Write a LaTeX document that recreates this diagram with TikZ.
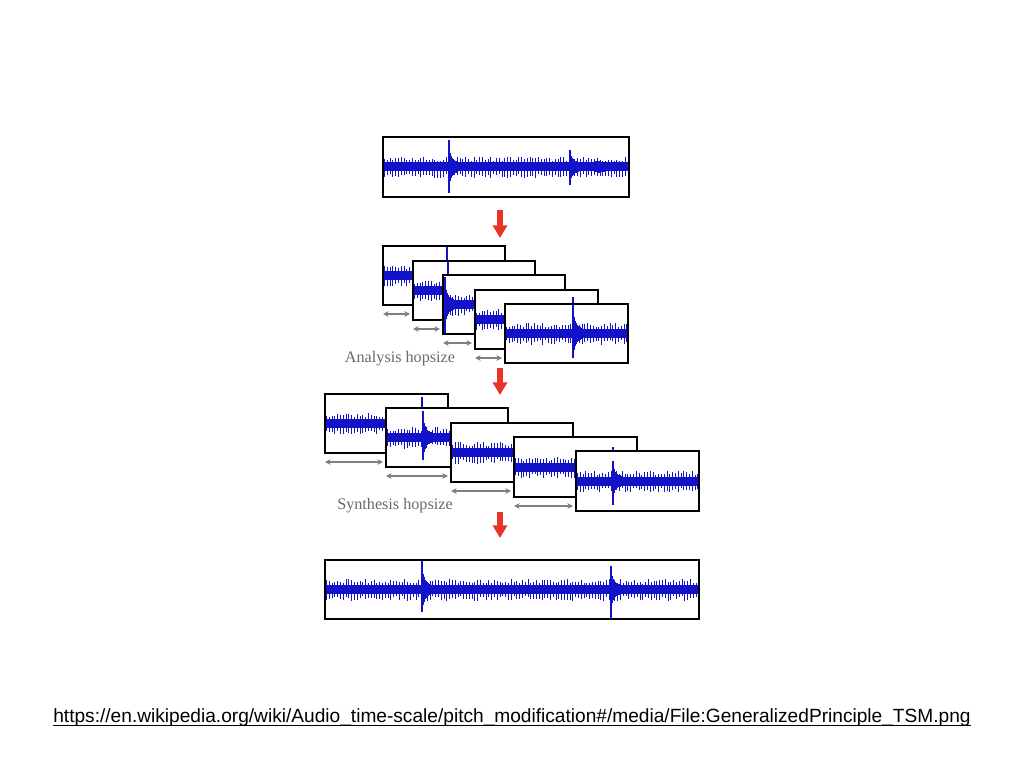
\documentclass[tikz,border=0pt]{standalone}
\usepackage{fontspec}
\setmainfont{Liberation Serif}
\newfontfamily\urlfont{Liberation Sans}
\usetikzlibrary{positioning,calc,fit,arrows.meta}

\definecolor{waveblue}{RGB}{18,18,200}
\definecolor{arrowred}{RGB}{232,52,38}
\definecolor{hopgray}{RGB}{128,128,128}
\definecolor{labelgray}{RGB}{105,105,105}

\tikzset{
  frame/.style={fill=white, inner sep=0pt, outer sep=0pt},
  frameline/.style={draw=black, line width=1.4pt},
  wave/.style={draw=waveblue, line width=0.6pt},
  hop/.style={hopgray, line width=0.8pt, {Stealth[length=4pt,width=4pt]}-{Stealth[length=4pt,width=4pt]}},
  downarrow/.style={arrowred, line width=4.3pt, -{Triangle[length=9pt,width=10pt]}},
  hoplabel/.style={text=labelgray, font=\fontsize{11.5}{13}\selectfont},
}

% noise band of a frame, centre line \wyc
\newcommand{\wavelines}[3]{%
  \pgfmathsetseed{#3}
  \fill[waveblue] (#1,\wyc-4.5) rectangle (#2,\wyc+4.5);
  \pgfmathtruncatemacro\wn{(#2-#1)/1.4}
  \foreach \k in {0,...,\wn}{
    \pgfmathsetmacro\wx{#1+1.4*\k}
    \pgfmathsetmacro\wu{4.5+mod(\k,2)*(1.5+4.5*rnd)}
    \pgfmathsetmacro\wd{4.5+mod(\k,2)*(2+5*rnd)}
    \draw[wave] (\wx,\wyc-\wu) -- (\wx,\wyc+\wd);
  }
}
% transient: x, up, down
\newcommand{\spike}[3]{%
  \draw[wave, line width=1.1pt] (#1,\wyc-#2) -- (#1,\wyc+#3);
  \foreach \d in {1,...,8}{
    \pgfmathsetmacro\ta{5+0.5*#2*exp(-\d/2.5)}
    \draw[wave, line width=0.8pt] (#1+\d*1.1,\wyc-\ta) -- (#1+\d*1.1,\wyc+\ta);
  }
}
% name, x0, y0, x1, y1, seed, spikes
\newcommand{\wframe}[7]{%
  \node[frame, fit={(#2,#3) (#4,#5)}] (#1) {};
  \begin{scope}
    \clip (#2,#3) rectangle (#4,#5);
    \pgfmathsetmacro\wyc{(#3+#5)/2}
    \wavelines{#2}{#4}{#6}
    #7
  \end{scope}
  \draw[frameline] (#2,#3) rectangle (#4,#5);
}

\begin{document}
\begin{tikzpicture}[x=0.025cm, y=-0.025cm]
\useasboundingbox (0,0) rectangle (1024,768);

% input signal
\wframe{in}{383}{137}{629}{197}{11}{\spike{449}{27}{26}\spike{570}{17}{18}\spike{596}{6}{5}}

\coordinate (r1a) at (500,210);
\coordinate (r1b) at (500,238);
\draw[downarrow] (r1a) -- (r1b);

% analysis frames
\wframe{a1}{383}{246}{505}{305}{21}{\spike{447}{29}{28}}
\wframe{a2}{413}{261}{535}{320}{22}{\spike{448}{29}{10}}
\wframe{a3}{443}{275}{565}{334}{23}{\spike{445}{28}{30}}
\wframe{a4}{475}{290}{598}{349}{24}{\spike{573}{23}{20}}
\wframe{a5}{505}{304}{628}{363}{25}{\spike{573}{34}{24}}

\foreach \p/\q in {a1/a2,a2/a3,a3/a4,a4/a5}
  \draw[hop] ($(\p.south west)+(0,9)$) -- ($(\q.west |- \p.south)+(-3,9)$);

\node[hoplabel] (alab) at (400,359) {Analysis hopsize};

\coordinate (r2a) at (500,368);
\coordinate (r2b) at (500,395);
\draw[downarrow] (r2a) -- (r2b);

% synthesis frames
\wframe{s1}{325}{394}{448}{453}{31}{\spike{422}{27}{12}}
\wframe{s2}{386}{408}{508}{467}{32}{\spike{423}{27}{22}}
\wframe{s3}{451}{423}{573}{482}{33}{}
\wframe{s4}{514}{437}{637}{497}{34}{\spike{613}{20}{10}}
\wframe{s5}{576}{451}{699}{511}{35}{\spike{613}{20}{24}}

\foreach \p/\q in {s1/s2,s2/s3,s3/s4,s4/s5}
  \draw[hop] ($(\p.south west)+(0,9)$) -- ($(\q.west |- \p.south)+(-3,9)$);

\node[hoplabel] (slab) at (395,506) {Synthesis hopsize};

\coordinate (r3a) at (500,512);
\coordinate (r3b) at (500,538);
\draw[downarrow] (r3a) -- (r3b);

% output signal
\wframe{out}{325}{560}{699}{619}{41}{\spike{422}{32}{22}\spike{611}{24}{30}}

\node[font=\urlfont\fontsize{13.6}{16}\selectfont, inner sep=0pt] (url) at (512,718)
  {https://en.wikipedia.org/wiki/Audio\_time-scale/pitch\_modification\#/media/File:GeneralizedPrinciple\_TSM.png};
\draw[line width=0.6pt] ($(url.base west)+(0,2.5)$) -- ($(url.base east)+(0,2.5)$);
\end{tikzpicture}
\end{document}
